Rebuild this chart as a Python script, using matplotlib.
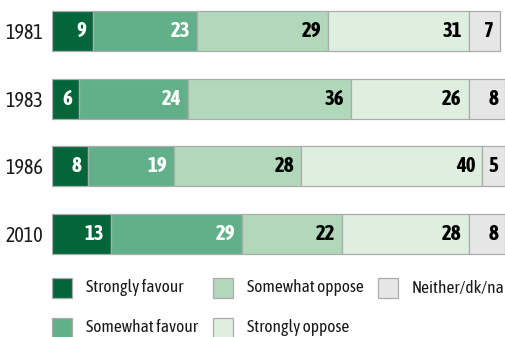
import matplotlib
matplotlib.use("Agg")
import matplotlib.pyplot as plt
from matplotlib.patches import Rectangle
from matplotlib import font_manager

years = ["1981", "1983", "1986", "2010"]
categories = ["Strongly favour", "Somewhat favour", "Somewhat oppose",
              "Strongly oppose", "Neither/dk/na"]
strongly_favour = [9, 6, 8, 13]
somewhat_favour = [23, 24, 19, 29]
somewhat_oppose = [29, 36, 28, 22]
strongly_oppose = [31, 26, 40, 28]
neither = [7, 8, 5, 8]
series = [strongly_favour, somewhat_favour, somewhat_oppose, strongly_oppose, neither]

colors = ["#03663A", "#62B08A", "#B1D8BA", "#DEEFE0", "#E6E6E6"]
label_colors = ["white", "white", "black", "black", "black"]

names = {f.name for f in font_manager.fontManager.ttflist}
fam = "Asap Condensed" if "Asap Condensed" in names else "DejaVu Sans"
plt.rcParams["font.family"] = [fam, "DejaVu Sans"]

W, H = 505, 337
fig = plt.figure(figsize=(W / 100, H / 100), dpi=100)
ax = fig.add_axes([52 / W, 1 - 264.5 / H, 453 / W, 264 / H])

ypos = list(range(len(years)))
left = [0] * len(years)
for vals, col, lc in zip(series, colors, label_colors):
    ax.barh(ypos, vals, left=left, height=0.59, color=col,
            edgecolor="#ABABAB", linewidth=0.9)
    for y, v, l in zip(ypos, vals, left):
        ax.annotate(str(v), xy=(l + v, y), xytext=(-5, 0),
                    textcoords="offset points", ha="right", va="center",
                    color=lc, fontsize=15, fontweight="bold")
    left = [a + b for a, b in zip(left, vals)]

ax.set_xlim(0, 100)
ax.set_ylim(3.45, -0.45)
ax.set_yticks(ypos)
ax.set_yticklabels(years, fontsize=14.5, color="#1a1a1a")
ax.tick_params(axis="y", length=0, pad=6.5)
ax.set_xticks([])
for s in ax.spines.values():
    s.set_visible(False)
ax.patch.set_alpha(0)

# legend (manual placement)
leg_items = [
    (52, 288, 0), (52, 328, 1),
    (213, 288, 2), (213, 328, 3),
    (378, 288, 4),
]
for x, yc, i in leg_items:
    sq = 20
    fig.add_artist(Rectangle((x / W, 1 - (yc + sq / 2) / H), sq / W, sq / H,
                             transform=fig.transFigure, facecolor=colors[i],
                             edgecolor="#ABABAB", linewidth=0.9))
    fig.text((x + 34) / W, 1 - yc / H, categories[i], ha="left", va="center",
             fontsize=12.5, color="#1a1a1a")

fig.savefig("out.png", dpi=100)
